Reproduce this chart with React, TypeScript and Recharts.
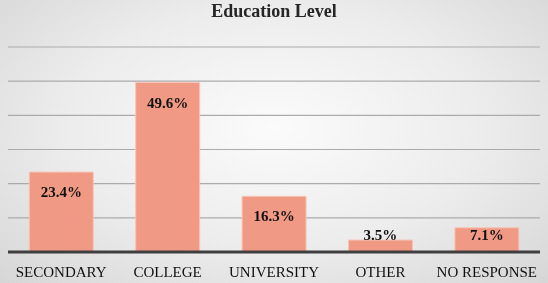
import React from 'react';
import { BarChart, Bar, XAxis, YAxis, CartesianGrid, LabelList } from 'recharts';

const categories = ['SECONDARY', 'COLLEGE', 'UNIVERSITY', 'OTHER', 'NO RESPONSE'];
const shares = [23.4, 49.6, 16.3, 3.5, 7.1];
const yTicks = [0, 10, 20, 30, 40, 50, 60];

const data = categories.map((name, i) => ({ name, value: shares[i] }));

const serif = '"Liberation Serif", "Times New Roman", serif';

const ValueLabel = (props: any) => {
  const { x, y, width, height, value } = props;
  const cx = x + width / 2;
  let ty: number;
  if (height > 40) ty = y + 20;
  else if (height > 16) ty = y + 7;
  else ty = y - 5;
  return (
    <text
      x={cx}
      y={ty}
      textAnchor="middle"
      dominantBaseline="central"
      fontFamily={serif}
      fontWeight="bold"
      fontSize={15}
      fill="#111"
    >
      {`${Number(value).toFixed(1)}%`}
    </text>
  );
};

export default function App() {
  return (
    <div
      style={{
        position: 'fixed',
        left: 0,
        top: 0,
        width: 548,
        height: 283,
        background: 'radial-gradient(ellipse at 50% 45%, #fbfbfb 0%, #ececec 55%, #d6d6d6 100%)',
      }}
    >
      <div
        style={{
          position: 'absolute',
          top: 1,
          left: 0,
          width: 548,
          textAlign: 'center',
          fontFamily: serif,
          fontWeight: 'bold',
          fontSize: 18,
          color: '#262626',
        }}
      >
        Education Level
      </div>
      <BarChart
        width={548}
        height={283}
        data={data}
        margin={{ top: 47, right: 8, bottom: 0, left: 8 }}
        barCategoryGap="20%"
      >
        <CartesianGrid vertical={false} stroke="#ababab" strokeWidth={1.2} />
        <YAxis hide domain={[0, 60]} ticks={yTicks} />
        <XAxis
          dataKey="name"
          height={31}
          axisLine={{ stroke: '#3f3f3f', strokeWidth: 3 }}
          tickLine={false}
          interval={0}
          tick={{ fontFamily: serif, fontSize: 15, fill: '#111' }}
          tickMargin={8}
        />
        <Bar dataKey="value" fill="#f09984" stroke="#f8c6b8" strokeWidth={1} isAnimationActive={false}>
          <LabelList dataKey="value" content={ValueLabel} />
        </Bar>
      </BarChart>
    </div>
  );
}
